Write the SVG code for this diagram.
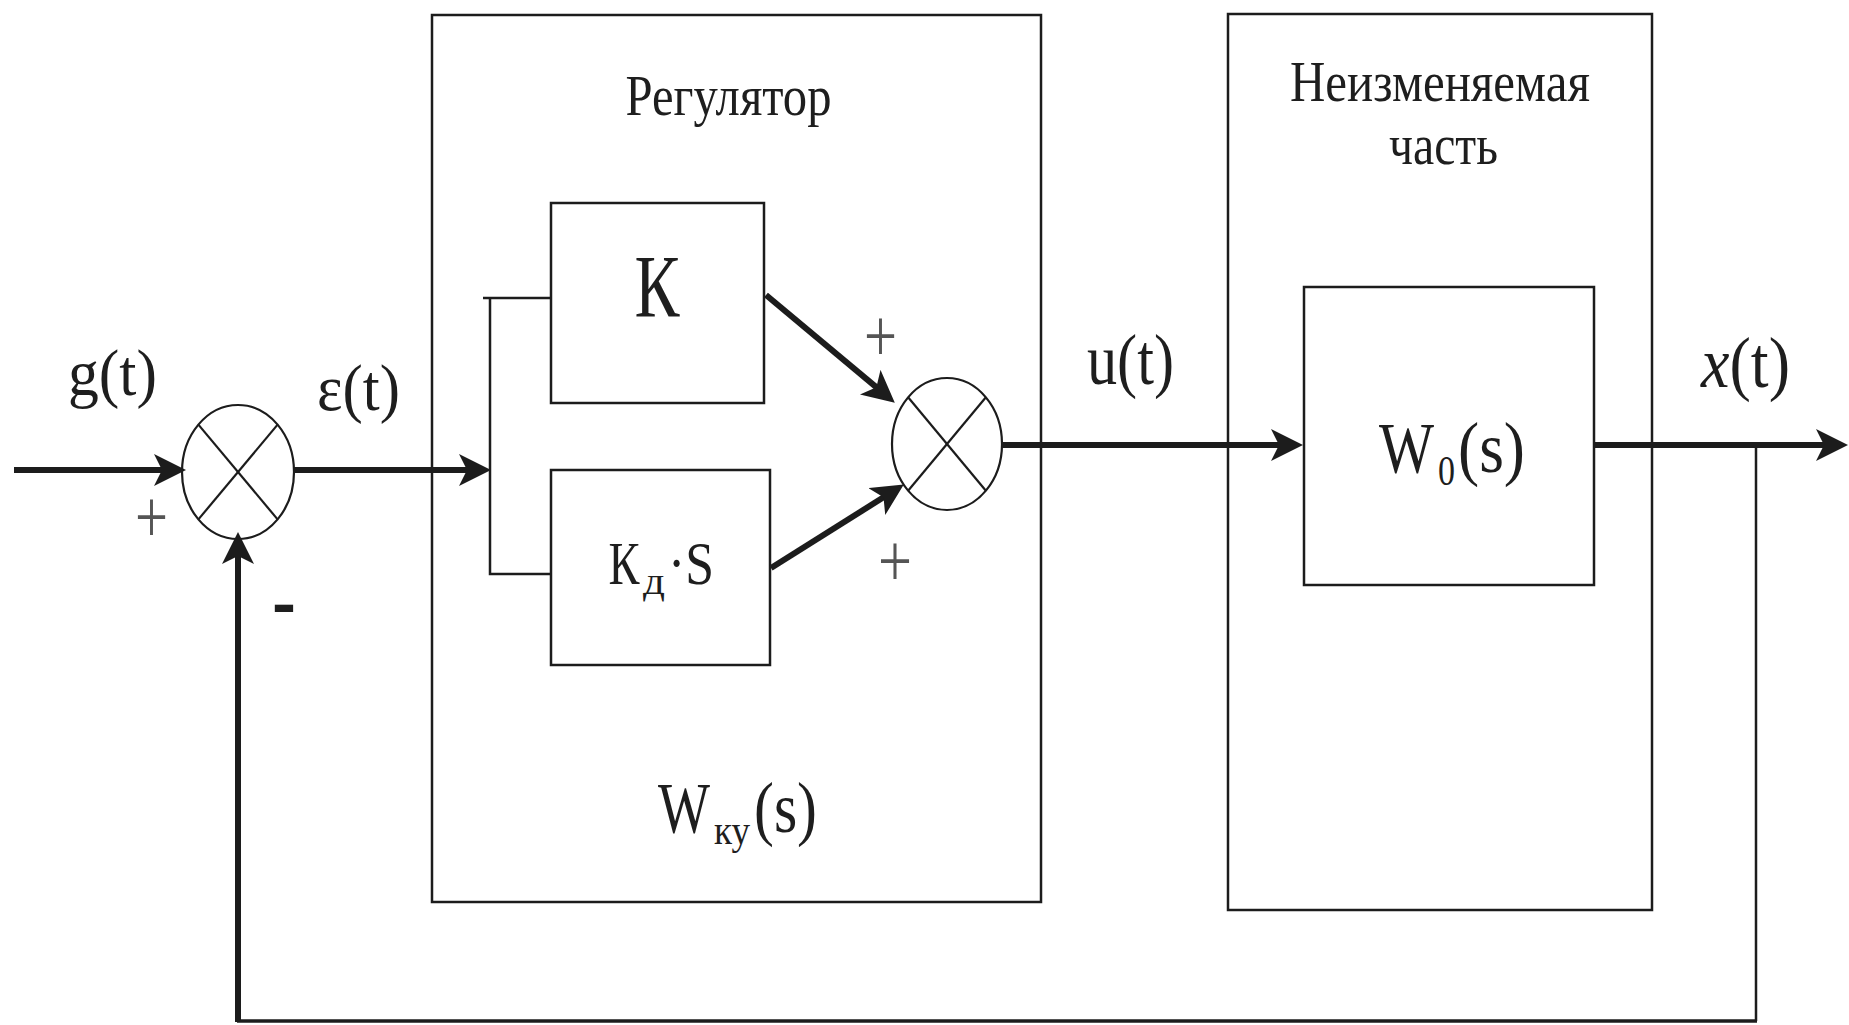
<svg xmlns="http://www.w3.org/2000/svg" width="1849" height="1025" viewBox="0 0 1849 1025">
<style>
.box{fill:none;stroke:#1c1c1c;stroke-width:2.5}
.outer{fill:none;stroke:#1c1c1c;stroke-width:2.5}
.sum{fill:#fff;stroke:#1c1c1c;stroke-width:2.2}
.x{stroke:#1c1c1c;stroke-width:2.2}
.sig{fill:none;stroke:#1c1c1c;stroke-width:6}
.thin{fill:none;stroke:#1c1c1c;stroke-width:2.5}
.t{font-family:"Liberation Serif","Times New Roman",serif;fill:#1e1e1e}
.pm{font-family:"Liberation Serif","Times New Roman",serif;fill:#555}
</style>
<defs>
<marker id="ah" markerUnits="userSpaceOnUse" markerWidth="34" markerHeight="34" refX="23" refY="16" orient="auto">
<path d="M0,0 L32,16 L0,32 L8,16 Z" fill="#1c1c1c"/>
</marker>
</defs>
<rect width="1849" height="1025" fill="#fff"/>

<g id="regulator">
<rect class="outer" x="432" y="15" width="609" height="887"/>
<text class="t" x="625.5" y="115" font-size="56" textLength="206" lengthAdjust="spacingAndGlyphs">Регулятор</text>
<text class="t" x="658" y="832" font-size="72" textLength="52" lengthAdjust="spacingAndGlyphs">W</text>
<text class="t" x="714" y="844" font-size="40" textLength="36" lengthAdjust="spacingAndGlyphs">ку</text>
<text class="t" x="754" y="832" font-size="72" textLength="63" lengthAdjust="spacingAndGlyphs">(s)</text>
</g>

<g id="plant">
<rect class="outer" x="1228" y="14" width="424" height="896"/>
<text class="t" x="1290" y="101" font-size="58" textLength="300" lengthAdjust="spacingAndGlyphs">Неизменяемая</text>
<text class="t" x="1389" y="164" font-size="58" textLength="109" lengthAdjust="spacingAndGlyphs">часть</text>
</g>

<g id="block-K">
<rect class="box" x="551" y="203" width="213" height="200"/>
<text class="t" x="634.5" y="316" font-size="88" textLength="45" lengthAdjust="spacingAndGlyphs">К</text>
</g>

<g id="block-KdS">
<rect class="box" x="551" y="470" width="219" height="195"/>
<text class="t" x="608.6" y="584" font-size="62" textLength="31" lengthAdjust="spacingAndGlyphs">К</text>
<text class="t" x="643" y="594" font-size="38" textLength="22" lengthAdjust="spacingAndGlyphs">д</text>
<text class="t" x="668" y="584" font-size="62" textLength="46" lengthAdjust="spacingAndGlyphs">·S</text>
</g>

<g id="block-W0">
<rect class="box" x="1304" y="287" width="290" height="298"/>
<text class="t" x="1379" y="472" font-size="72" textLength="55" lengthAdjust="spacingAndGlyphs">W</text>
<text class="t" x="1438" y="485" font-size="42" textLength="17" lengthAdjust="spacingAndGlyphs">0</text>
<text class="t" x="1458" y="472" font-size="72" textLength="67" lengthAdjust="spacingAndGlyphs">(s)</text>
</g>

<g id="sum1">
<ellipse class="sum" cx="238" cy="472" rx="56" ry="67"/>
<line class="x" x1="198.4" y1="424.6" x2="277.6" y2="519.4"/>
<line class="x" x1="277.6" y1="424.6" x2="198.4" y2="519.4"/>
</g>

<g id="sum2">
<ellipse class="sum" cx="947" cy="444" rx="55" ry="66"/>
<line class="x" x1="908.1" y1="397.3" x2="985.9" y2="490.7"/>
<line class="x" x1="985.9" y1="397.3" x2="908.1" y2="490.7"/>
</g>

<g id="connectors">
<line class="sig" x1="14" y1="470" x2="177" y2="470" marker-end="url(#ah)"/>
<line class="sig" x1="294" y1="470" x2="482" y2="470" marker-end="url(#ah)"/>
<polyline class="thin" points="483,298 551,298"/>
<polyline class="thin" points="490,298 490,574 551,574"/>
<line class="sig" x1="766" y1="295" x2="887.9" y2="396.9" marker-end="url(#ah)"/>
<line class="sig" x1="771" y1="568" x2="896.2" y2="489.3" marker-end="url(#ah)"/>
<line class="sig" x1="1002" y1="445" x2="1294" y2="445" marker-end="url(#ah)"/>
<line class="sig" x1="1594" y1="445" x2="1839" y2="445" marker-end="url(#ah)"/>
<polyline fill="none" stroke="#1c1c1c" stroke-width="2.5" points="1756,445 1756,1021"/>
<polyline fill="none" stroke="#1c1c1c" stroke-width="3.5" points="1757,1021 237,1021"/>
<line class="sig" x1="238" y1="1022" x2="238" y2="541" marker-end="url(#ah)"/>
</g>

<g id="labels">
<text class="t" x="68" y="395" font-size="66" textLength="89" lengthAdjust="spacingAndGlyphs">g(t)</text>
<text class="t" x="317" y="410" font-size="66" textLength="83" lengthAdjust="spacingAndGlyphs">ε(t)</text>
<text class="t" x="1087" y="384" font-size="72" textLength="87" lengthAdjust="spacingAndGlyphs">u(t)</text>
<text class="t" x="1701" y="387" font-size="72" textLength="89" lengthAdjust="spacingAndGlyphs"><tspan font-style="italic">x</tspan>(t)</text>
<text class="pm" x="135" y="542" font-size="76" textLength="33" lengthAdjust="spacingAndGlyphs">+</text>
<text class="pm" x="864" y="361" font-size="76" textLength="33" lengthAdjust="spacingAndGlyphs">+</text>
<text class="pm" x="878" y="586" font-size="76" textLength="34" lengthAdjust="spacingAndGlyphs">+</text>
<text x="272" y="624" font-family="Liberation Sans, Arial, sans-serif" font-weight="bold" font-size="62" fill="#1e1e1e" textLength="24" lengthAdjust="spacingAndGlyphs">-</text>
</g>
</svg>
